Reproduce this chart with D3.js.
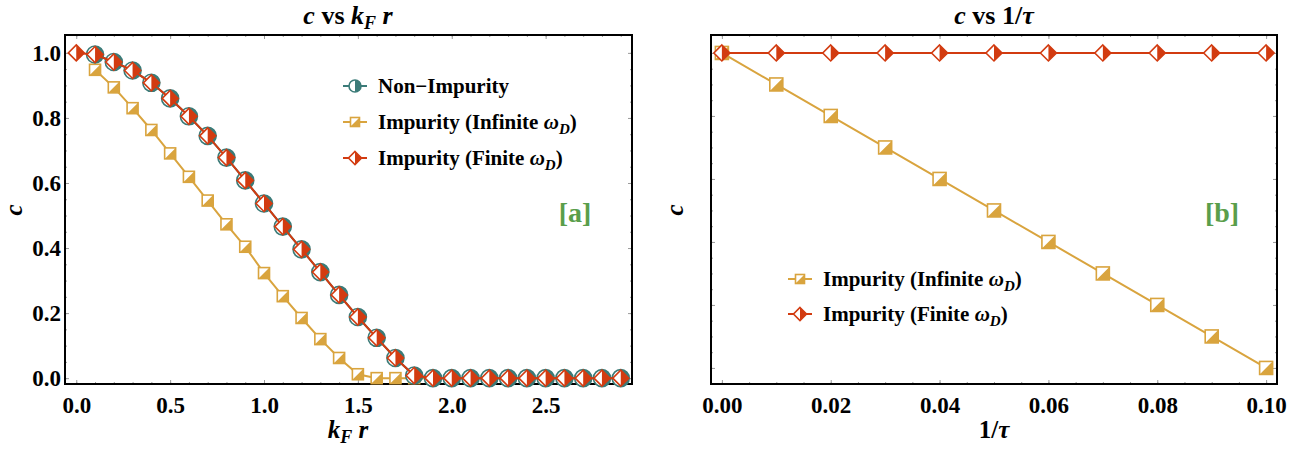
<!DOCTYPE html>
<meta charset="utf-8">
<style>
body { margin: 0; background: #fff; }
svg { font-family: "Liberation Serif", "Times New Roman", serif; font-weight: bold; }
.frame { fill: none; stroke: #000; stroke-width: 2px; }
.tick line { stroke: #9a9a9a; }
.domain { display: none; }
</style>
<svg width="1309" height="450"></svg>
<script src="https://d3js.org/d3.v7.min.js"></script>
<script>

// panel [a]: c vs kF r
var kr = [0.0, 0.1, 0.2, 0.3, 0.4, 0.5, 0.6, 0.7, 0.8, 0.9, 1.0, 1.1, 1.2, 1.3, 1.4,
          1.5, 1.6, 1.7, 1.8, 1.9, 2.0, 2.1, 2.2, 2.3, 2.4, 2.5, 2.6, 2.7, 2.8, 2.9];
// non-impurity and infinite wD start at kF r = 0.1
var cNonImpurity = [0.995, 0.972, 0.946, 0.908, 0.860, 0.805, 0.745, 0.678, 0.608, 0.537,
                    0.466, 0.396, 0.326, 0.256, 0.188, 0.124, 0.062, 0.008, 0, 0,
                    0, 0, 0, 0, 0, 0, 0, 0, 0];
var cInfinite = [0.948, 0.894, 0.830, 0.763, 0.691, 0.619, 0.546, 0.473, 0.404, 0.323,
                 0.252, 0.185, 0.120, 0.062, 0.012, 0, 0, 0, 0, 0,
                 0, 0, 0, 0, 0, 0, 0, 0, 0];
var cFinite = [1.0, 0.995, 0.972, 0.946, 0.908, 0.860, 0.805, 0.745, 0.678, 0.608, 0.537,
               0.466, 0.396, 0.326, 0.256, 0.188, 0.124, 0.062, 0.008, 0, 0,
               0, 0, 0, 0, 0, 0, 0, 0, 0];
var krTicks = [0.0, 0.5, 1.0, 1.5, 2.0, 2.5];
var cTicks = [0.0, 0.2, 0.4, 0.6, 0.8, 1.0];

// panel [b]: c vs 1/tau
var invTau = [0.00, 0.01, 0.02, 0.03, 0.04, 0.05, 0.06, 0.07, 0.08, 0.09, 0.10];
var cInfiniteTau = [1.00, 0.99, 0.98, 0.97, 0.96, 0.95, 0.94, 0.93, 0.92, 0.91, 0.90];
var cFiniteTau = [1, 1, 1, 1, 1, 1, 1, 1, 1, 1, 1];
var tauTicks = [0.00, 0.02, 0.04, 0.06, 0.08, 0.10];

var teal = "#3b7b78", gold = "#d9a43e", red = "#d23b10";
var serif = "'Liberation Serif', 'Times New Roman', serif";

var svg = d3.select("svg");

// marker helpers
function circleMark(g, r) {
  g.append("circle").attr("r", r).attr("fill", "#fff").attr("stroke", teal).attr("stroke-width", 1.6);
  g.append("path").attr("fill", teal)
    .attr("d", "M0," + (-r) + "A" + r + "," + r + " 0 0 1 0," + r + "Z");
}
function squareMark(g, s) {
  var h = s / 2;
  g.append("rect").attr("x", -h).attr("y", -h).attr("width", s).attr("height", s)
    .attr("fill", "#fff").attr("stroke", gold).attr("stroke-width", 1.6);
  g.append("path").attr("fill", gold)
    .attr("d", "M" + h + "," + (-h) + "L" + h + "," + h + "L" + (-h) + "," + h + "Z");
}
function diamondMark(g, r) {
  g.append("path").attr("fill", "#fff").attr("stroke", red).attr("stroke-width", 1.6)
    .attr("d", "M0," + (-r) + "L" + r + ",0L0," + r + "L" + (-r) + ",0Z");
  g.append("path").attr("fill", red)
    .attr("d", "M0," + (-r) + "L" + r + ",0L0," + r + "Z");
}

function series(g, xs, ys, x, y, color, mark, size) {
  var pts = xs.map(function(d, i) { return [d, ys[i]]; });
  g.append("path")
      .datum(pts)
      .attr("fill", "none")
      .attr("stroke", color)
      .attr("stroke-width", 2)
      .attr("d", d3.line().x(function(d) { return x(d[0]); }).y(function(d) { return y(d[1]); }));
  g.selectAll(null)
    .data(pts)
    .enter().append("g")
      .attr("transform", function(d) { return "translate(" + x(d[0]) + "," + y(d[1]) + ")"; })
      .each(function() { mark(d3.select(this), size); });
}

function frameTicks(g, x, y, xMajor, xMinor, yMajor, yMinor, showY, xFmt) {
  var r = x.range(), b = y.range();
  g.append("g").attr("transform", "translate(0," + b[0] + ")")
    .call(d3.axisBottom(x).tickValues(xMinor).tickSize(-2).tickFormat(""));
  g.append("g").attr("transform", "translate(0," + b[1] + ")")
    .call(d3.axisTop(x).tickValues(xMinor).tickSize(-2).tickFormat(""));
  g.append("g").attr("transform", "translate(0," + b[1] + ")")
    .call(d3.axisTop(x).tickValues(xMajor).tickSize(-4).tickFormat(""));
  g.append("g").attr("transform", "translate(" + r[0] + ",0)")
    .call(d3.axisLeft(y).tickValues(yMinor).tickSize(-2).tickFormat(""));
  g.append("g").attr("transform", "translate(" + r[1] + ",0)")
    .call(d3.axisRight(y).tickValues(yMinor).tickSize(-2).tickFormat(""));
  g.append("g").attr("transform", "translate(" + r[1] + ",0)")
    .call(d3.axisRight(y).tickValues(yMajor).tickSize(-4).tickFormat(""));

  var xa = g.append("g").attr("transform", "translate(0," + b[0] + ")")
    .call(d3.axisBottom(x).tickValues(xMajor).tickSize(-4).tickPadding(13).tickFormat(xFmt))
    .attr("font-family", serif).attr("font-size", 23);
  xa.selectAll("text").attr("fill", "#000");
  var ya = g.append("g").attr("transform", "translate(" + r[0] + ",0)")
    .call(d3.axisLeft(y).tickValues(yMajor).tickSize(-4).tickPadding(4)
      .tickFormat(showY ? d3.format(".1f") : ""))
    .attr("font-family", serif).attr("font-size", 23);
  ya.selectAll("text").attr("fill", "#000");

  g.append("rect").attr("class", "frame")
    .attr("x", r[0]).attr("y", b[1]).attr("width", r[1] - r[0]).attr("height", b[0] - b[1]);
}

function legend(g, x0, y0, dy, items) {
  items.forEach(function(it, i) {
    var row = g.append("g").attr("transform", "translate(" + x0 + "," + (y0 + i * dy) + ")");
    row.append("line").attr("x1", -12).attr("x2", 12).attr("stroke", it.color).attr("stroke-width", 2);
    it.mark(row.append("g"), it.size);
    var t = row.append("text").attr("x", 23).attr("dy", "0.33em").attr("font-size", 21);
    it.label(t);
  });
}

function omegaLabel(word) {
  return function(t) {
    t.append("tspan").text("Impurity (" + word + " ");
    t.append("tspan").attr("font-style", "italic").text("ω");
    t.append("tspan").attr("font-style", "italic").attr("font-size", 15).attr("dy", 5).text("D");
    t.append("tspan").attr("dy", -5).text(")");
  };
}

// ---- panel a ----
var xa = d3.scaleLinear().domain([-0.06, 2.96]).range([65, 632]);
var ya = d3.scaleLinear().domain([-0.018, 1.055]).range([384, 35]);
var ga = svg.append("g");

frameTicks(ga, xa, ya, krTicks, d3.range(0, 2.95, 0.1), cTicks, d3.range(0, 1.01, 0.05), true, d3.format(".1f"));

series(ga, kr.slice(1), cInfinite, xa, ya, gold, squareMark, 11);
series(ga, kr.slice(1), cNonImpurity, xa, ya, teal, circleMark, 8.5);
series(ga, kr, cFinite, xa, ya, red, diamondMark, 8);

var ta = ga.append("text").attr("x", 348).attr("y", 24).attr("text-anchor", "middle").attr("font-size", 26);
ta.append("tspan").attr("font-style", "italic").text("c");
ta.append("tspan").text(" vs ");
ta.append("tspan").attr("font-style", "italic").text("k");
ta.append("tspan").attr("font-style", "italic").attr("font-size", 18).attr("dy", 5).text("F");
ta.append("tspan").attr("font-style", "italic").attr("dy", -5).text(" r");

var xla = ga.append("text").attr("x", 348).attr("y", 438).attr("text-anchor", "middle").attr("font-size", 25);
xla.append("tspan").attr("font-style", "italic").text("k");
xla.append("tspan").attr("font-style", "italic").attr("font-size", 18).attr("dy", 5).text("F");
xla.append("tspan").attr("font-style", "italic").attr("dy", -5).text(" r");

ga.append("text").attr("transform", "translate(22,210) rotate(-90)")
  .attr("text-anchor", "middle").attr("font-size", 25).attr("font-style", "italic").text("c");

ga.append("text").attr("x", 575).attr("y", 222).attr("text-anchor", "middle")
  .attr("font-size", 28).attr("fill", "#5a9e4b").text("[a]");

legend(ga, 355, 86, 36, [
  { color: teal, mark: circleMark, size: 6, label: function(t) { t.text("Non\u2212Impurity"); } },
  { color: gold, mark: squareMark, size: 9, label: omegaLabel("Infinite") },
  { color: red, mark: diamondMark, size: 6.5, label: omegaLabel("Finite") }
]);

// ---- panel b ----
var xb = d3.scaleLinear().domain([-0.002, 0.102]).range([711, 1277]);
var yb = d3.scaleLinear().domain([0.8949, 1.0057]).range([384, 35]);
var gb = svg.append("g");

frameTicks(gb, xb, yb, tauTicks, d3.range(0, 0.1001, 0.005), d3.range(0.9, 1.001, 0.02),
  d3.range(0.9, 1.001, 0.005), false, d3.format(".2f"));

series(gb, invTau, cInfiniteTau, xb, yb, gold, squareMark, 13);
series(gb, invTau, cFiniteTau, xb, yb, red, diamondMark, 8);

var tb = gb.append("text").attr("x", 994).attr("y", 24).attr("text-anchor", "middle").attr("font-size", 26);
tb.append("tspan").attr("font-style", "italic").text("c");
tb.append("tspan").text(" vs 1/");
tb.append("tspan").attr("font-style", "italic").text("τ");

var xlb = gb.append("text").attr("x", 994).attr("y", 438).attr("text-anchor", "middle").attr("font-size", 25);
xlb.append("tspan").text("1/");
xlb.append("tspan").attr("font-style", "italic").text("τ");

gb.append("text").attr("transform", "translate(683,210) rotate(-90)")
  .attr("text-anchor", "middle").attr("font-size", 25).attr("font-style", "italic").text("c");

gb.append("text").attr("x", 1222).attr("y", 222).attr("text-anchor", "middle")
  .attr("font-size", 28).attr("fill", "#5a9e4b").text("[b]");

legend(gb, 800, 279, 35, [
  { color: gold, mark: squareMark, size: 9, label: omegaLabel("Infinite") },
  { color: red, mark: diamondMark, size: 6.5, label: omegaLabel("Finite") }
]);

</script>
